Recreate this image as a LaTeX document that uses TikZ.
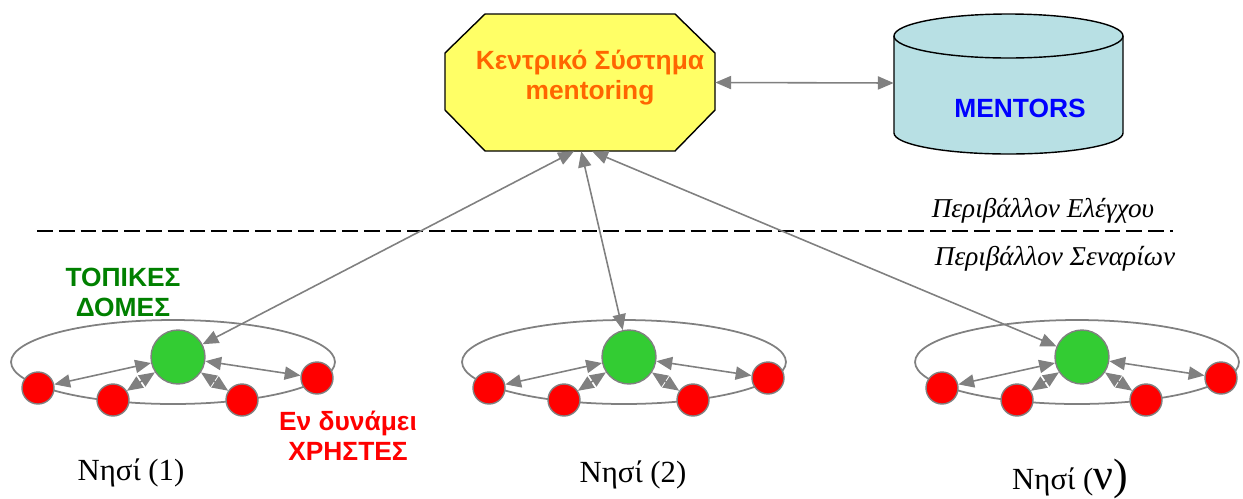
\documentclass[tikz,border=0pt]{standalone}
\usepackage{fontspec}
\setmainfont{Liberation Serif}
\setsansfont{Liberation Sans}
\usepackage{xcolor}
\usetikzlibrary{shapes.geometric,arrows.meta}

\definecolor{octofill}{HTML}{FFFF66}
\definecolor{octotext}{HTML}{FF6600}
\definecolor{dbfill}{HTML}{B8E0E4}
\definecolor{linkgray}{HTML}{808080}
\definecolor{hubgreen}{HTML}{33CC33}
\definecolor{labelgreen}{HTML}{008000}

\begin{document}
\begin{tikzpicture}[x=0.02cm, y=-0.02cm,
    link/.style={linkgray, line width=0.9pt,
      {Triangle[length=9pt,width=7.5pt]}-{Triangle[length=9pt,width=7.5pt]}},
    hub/.style={circle, draw=linkgray, line width=0.8pt, fill=hubgreen,
      minimum size=1.08cm, inner sep=0pt},
    user/.style={circle, draw=linkgray, line width=0.8pt, fill=red,
      minimum size=0.64cm, inner sep=0pt},
    ring/.style={ellipse, draw=linkgray, line width=1pt,
      minimum width=6.48cm, minimum height=1.68cm, inner sep=0pt},
    tag/.style={font=\sffamily\bfseries\fontsize{15}{17}\selectfont, align=center},
    env/.style={font=\itshape\fontsize{15.5}{18}\selectfont},
    island/.style={font=\fontsize{17.5}{20}\selectfont}]
    \useasboundingbox (0,0) rectangle (1243,498);

    % central system
    \filldraw[fill=octofill, line width=0.8pt] (485,14) -- (675,14) -- (715,53) -- (715,110)
      -- (675,151) -- (485,151) -- (445,110) -- (445,53) -- cycle;
    \node[minimum width=5.4cm, minimum height=2.74cm, inner sep=0pt] (cs) at (580,82.5) {};
    \node[tag, text=octotext] (cstext) at (590,78) {Κεντρικό Σύστημα\\mentoring};

    % mentors database
    \filldraw[fill=dbfill, line width=0.8pt] (894,36) -- (894,133)
      arc[start angle=180, end angle=0, x radius=114.5, y radius=21] -- (1123,36)
      arc[start angle=0, end angle=-180, x radius=114.5, y radius=22] -- cycle;
    \draw[line width=0.8pt] (894,36) arc[start angle=180, end angle=0, x radius=114.5, y radius=22];
    \node[minimum width=4.58cm, minimum height=2.8cm, inner sep=0pt] (db) at (1008.5,83) {};
    \node[tag, text=blue] (dbtext) at (1020,108) {MENTORS};

    \draw[link] (cs.east) -- (db.west);

    % environments
    \draw[line width=1.15pt, dash pattern=on 9pt off 3.4pt] (37,231) -- (1173,231);
    \node[env, anchor=base] (ctrl) at (1043,217) {Περιβάλλον Ελέγχου};
    \node[env, anchor=base] (scen) at (1055,265) {Περιβάλλον Σεναρίων};

    % islands
    \foreach \i/\x in {1/178, 2/629, 3/1082} {
      \node[ring] (e\i) at (\x-5,362) {};
      \node[hub] (g\i) at (\x,357) {};
      \node[user] (a\i) at (\x-140,388) {};
      \node[user] (b\i) at (\x-65,400) {};
      \node[user] (c\i) at (\x+64,400) {};
      \node[user] (d\i) at (\x+139,378) {};
      \draw[link] (a\i) -- (g\i);
      \draw[link] (b\i) -- (g\i);
      \draw[link] (c\i) -- (g\i);
      \draw[link] (d\i) -- (g\i);
    }

    \draw[link] (cs.265) -- (g1);
    \draw[link] (cs.271) -- (g2);
    \draw[link] (cs.280) -- (g3);

    \node[tag, text=labelgreen] (local) at (123,292) {ΤΟΠΙΚΕΣ\\ΔΟΜΕΣ};
    \node[tag, text=red] (users) at (348,436) {Εν δυνάμει\\ΧΡΗΣΤΕΣ};

    \node[island, anchor=base] (n1) at (131,480) {Νησί (1)};
    \node[island, anchor=base] (n2) at (633,482) {Νησί (2)};
    \node[island, anchor=base] (n3) at (1070,489) {Νησί ({\fontsize{25}{28}\selectfont ν)}};
  \end{tikzpicture}
\end{document}
